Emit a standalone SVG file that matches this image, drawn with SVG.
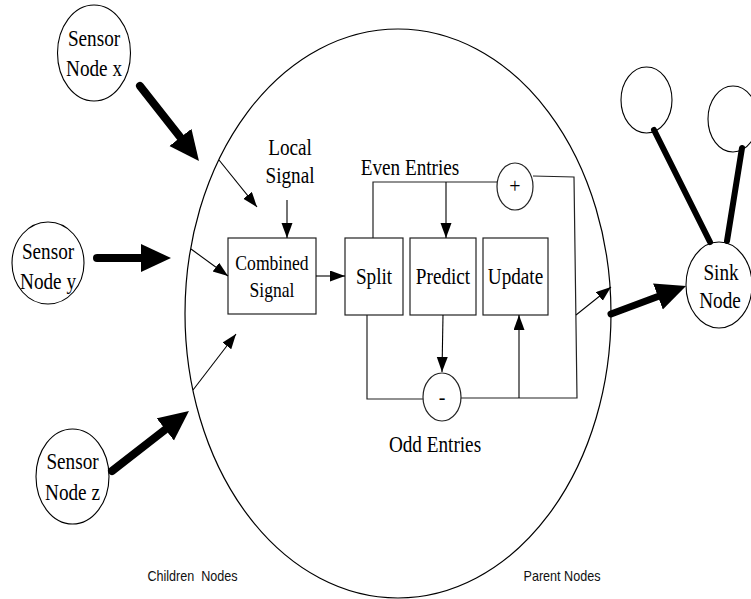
<svg xmlns="http://www.w3.org/2000/svg" width="751" height="599" viewBox="0 0 751 599">
  <style>
    .node { fill: #fff; stroke: #000; stroke-width: 1.1; }
    .box { fill: #fff; stroke: #222; stroke-width: 1.2; }
    .serif { font-family: "Liberation Serif", "Times New Roman", serif; font-size: 24px; fill: #000; text-anchor: middle; }
    .small { font-size: 22px; }
    .sans { font-family: "Liberation Sans", Arial, sans-serif; font-size: 14px; fill: #111; text-anchor: middle; }
    .wire { fill: none; stroke: #222; stroke-width: 1.2; }
    .thin { fill: none; stroke: #000; stroke-width: 1.1; marker-end: url(#headThin); }
    .thick { fill: none; stroke: #000; stroke-width: 8; stroke-linecap: round; marker-end: url(#headThick); }
    .link { fill: none; stroke: #000; stroke-width: 6; stroke-linecap: round; }
  </style>
  <defs>
    <marker id="headThin" markerUnits="userSpaceOnUse" markerWidth="16" markerHeight="12" refX="15" refY="5.5" orient="auto">
      <path d="M0,0 L15,5.5 L0,11 z" fill="#000"/>
    </marker>
    <marker id="headThick" markerUnits="userSpaceOnUse" markerWidth="32" markerHeight="30" refX="10" refY="14" orient="auto">
      <path d="M0,0 L30,14 L0,28 z" fill="#000"/>
    </marker>
  </defs>

  <!-- parent node boundary -->
  <g id="parent">
    <ellipse cx="398" cy="313.5" rx="213" ry="284.5" fill="none" stroke="#000" stroke-width="1.2"/>
  </g>

  <!-- sensor (children) nodes -->
  <g id="sensor-x">
    <ellipse class="node" cx="94" cy="53" rx="36.5" ry="48"/>
    <text class="serif" transform="translate(94 46) scale(0.8 1)">Sensor</text>
    <text class="serif" transform="translate(94 76) scale(0.8 1)">Node x</text>
  </g>
  <g id="sensor-y">
    <ellipse class="node" cx="48" cy="263" rx="36" ry="41"/>
    <text class="serif" transform="translate(48 259) scale(0.8 1)">Sensor</text>
    <text class="serif" transform="translate(48 289) scale(0.8 1)">Node y</text>
  </g>
  <g id="sensor-z">
    <ellipse class="node" cx="72.5" cy="476.5" rx="36.5" ry="47.5"/>
    <text class="serif" transform="translate(72.5 469) scale(0.8 1)">Sensor</text>
    <text class="serif" transform="translate(72.5 500) scale(0.8 1)">Node z</text>
  </g>

  <!-- sink side -->
  <g id="sink">
    <ellipse class="node" cx="719" cy="285" rx="33" ry="43"/>
    <text class="serif" transform="translate(721 280) scale(0.8 1)">Sink</text>
    <text class="serif" transform="translate(720 308) scale(0.8 1)">Node</text>
  </g>
  <g id="peer-a">
    <ellipse class="node" cx="646.5" cy="100" rx="25.5" ry="33"/>
  </g>
  <g id="peer-b">
    <ellipse class="node" cx="733" cy="119" rx="25" ry="33"/>
  </g>

  <!-- processing blocks -->
  <g id="combined">
    <rect class="box" x="228" y="238" width="88" height="76"/>
    <text class="serif small" transform="translate(272 270) scale(0.8 1)">Combined</text>
    <text class="serif small" transform="translate(272 297) scale(0.8 1)">Signal</text>
  </g>
  <g id="split">
    <rect class="box" x="345" y="238" width="58" height="77"/>
    <text class="serif" transform="translate(374 284) scale(0.8 1)">Split</text>
  </g>
  <g id="predict">
    <rect class="box" x="410" y="238" width="66" height="77"/>
    <text class="serif" transform="translate(443 284) scale(0.8 1)">Predict</text>
  </g>
  <g id="update">
    <rect class="box" x="483" y="238" width="65" height="77"/>
    <text class="serif" transform="translate(515.5 284) scale(0.8 1)">Update</text>
  </g>
  <g id="plus">
    <ellipse class="box" cx="515" cy="186.5" rx="18" ry="23.5"/>
    <text class="serif" style="font-size:20px" x="515" y="193">+</text>
  </g>
  <g id="minus">
    <ellipse class="box" cx="442" cy="397" rx="19" ry="24"/>
    <text class="serif" style="font-size:20px" x="442" y="404">-</text>
  </g>

  <!-- labels -->
  <g id="labels">
    <text class="serif" transform="translate(290 155) scale(0.8 1)">Local</text>
    <text class="serif" transform="translate(290 183) scale(0.8 1)">Signal</text>
    <text class="serif" transform="translate(410 175) scale(0.8 1)">Even Entries</text>
    <text class="serif" transform="translate(435 452) scale(0.8 1)">Odd Entries</text>
    <text class="sans" transform="translate(192.5 581) scale(0.9 1)" xml:space="preserve">Children  Nodes</text>
    <text class="sans" transform="translate(562 581) scale(0.9 1)">Parent Nodes</text>
  </g>

  <!-- connectors -->
  <g id="connectors">
    <!-- radio links from sensors into the parent -->
    <line class="thick" x1="140" y1="86" x2="186.6" y2="145.3"/>
    <line class="thick" x1="97" y1="258" x2="151" y2="258"/>
    <line class="thick" x1="112" y1="471" x2="173.2" y2="423.3"/>
    <!-- link from the parent to the sink -->
    <line class="thick" style="stroke-width:7" x1="611" y1="314" x2="667.3" y2="293"/>
    <!-- sink links to neighbours -->
    <line class="link" x1="654" y1="130" x2="710" y2="242"/>
    <line class="link" x1="742" y1="148" x2="727" y2="241"/>

    <!-- inputs to the combiner -->
    <line class="thin" x1="219" y1="160" x2="257" y2="207"/>
    <line class="thin" x1="191" y1="249" x2="228" y2="276"/>
    <line class="thin" x1="193" y1="390" x2="236" y2="334"/>
    <line class="thin" x1="287" y1="200" x2="287" y2="238"/>
    <line class="thin" x1="316" y1="276" x2="345" y2="276"/>

    <!-- lifting scheme wiring -->
    <polyline class="wire" points="373,238 373,182 497,182"/>
    <line class="thin" x1="446" y1="182" x2="446" y2="238"/>
    <polyline class="wire" points="533,176 574,177 577,398 461,398"/>
    <polyline class="wire" points="367,315 367,399 423,399"/>
    <line class="thin" x1="443" y1="315" x2="442" y2="372"/>
    <line class="thin" x1="519" y1="398" x2="519" y2="315"/>
    <line class="thin" x1="576" y1="315" x2="611" y2="287"/>
  </g>
</svg>
